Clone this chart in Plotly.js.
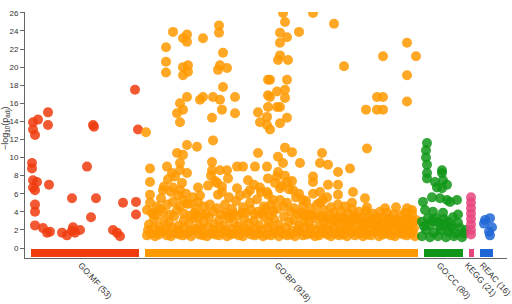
<!DOCTYPE html>
<html><head><meta charset="utf-8">
<script src="https://cdn.plot.ly/plotly-3.0.1.min.js"></script>
<style>html,body{margin:0;padding:0;background:#fff}#chart{width:512px;height:304px}</style>
</head><body><div id="chart"></div>
<script>
// Sources (categories), term counts and colours
var sources = ["GO:MF", "GO:BP", "GO:CC", "KEGG", "REAC"];
var termCounts = [53, 918, 80, 21, 16];
var colors = ["#f03c0e", "#ff9900", "#109618", "#e8457f", "#1e66d6"];
// Position span of each source on the x axis (term position scale)
var spanStart = [31, 145, 424, 469, 480];
var spanEnd = [139, 418, 463, 474, 493];

// Points: [term position, -log10(p_adj)]
var mfPoints = [[135,17.5],[48,15.0],[48,13.6],[33,13.9],[33,13.1],[35,12.5],[38,14.2],[93,13.6],[94,13.4],
 [138,13.1],[32,9.4],[32,8.8],[87,9.0],[33,7.5],[33,6.7],[35,6.4],[37,7.3],[49,7.0],[72,5.5],[96,5.5],
 [123,5.0],[136,5.1],[136,3.7],[35,4.8],[35,4.0],[35,2.5],[43,2.2],[47,1.7],[50,1.8],[62,1.7],[67,1.4],
 [73,2.3],[75,1.7],[80,2.0],[72,1.9],[91,3.4],[113,2.0],[117,1.7],[120,1.3]];

var bpPoints = [
 [173,23.9],[187,23.6],[187,22.8],[183,23.2],[203,23.2],[219,24.6],[219,23.8],[166,22.2],[166,20.6],[166,19.4],
 [183,20.0],[188,20.2],[183,19.1],[188,19.5],[223,21.6],[220,20.2],[227,19.9],[218,19.7],[268,18.6],[268,16.9],
 [268,15.6],[277,17.3],[277,15.6],[187,16.7],[180,16.0],[183,15.3],[177,14.9],[180,13.9],[200,16.4],[203,16.7],
 [213,16.7],[220,16.4],[222,15.3],[223,17.8],[235,16.7],[235,14.9],[212,14.4],[258,15.0],[260,13.9],[267,13.6],
 [267,14.5],[283,26.0],[285,25.0],[280,23.8],[280,22.7],[280,21.3],[287,23.3],[288,20.8],[278,20.8],[299,23.9],
 [313,26.0],[334,24.8],[344,20.1],[383,21.2],[407,22.7],[416,21.2],[407,19.1],[407,16.2],[377,16.7],[383,16.7],
 [366,15.3],[377,15.3],[383,15.3],[270,18.6],[287,18.6],[285,17.5],[285,16.6],[280,15.6],[270,16.7],[287,14.4],
 [280,13.8],[146,12.8],[213,11.9],[187,11.4],[197,11.2],[177,10.5],[183,10.3],[150,8.8],[150,7.3],[150,5.9],
 [167,9.0],[172,8.3],[180,9.4],[180,8.6],[187,8.3],[212,9.5],[212,8.6],[220,8.6],[227,8.6],[237,9.0],
 [243,9.0],[258,10.5],[255,9.0],[267,9.0],[268,7.7],[163,6.4],[173,6.7],[180,6.4],[183,5.3],[198,6.7],
 [198,5.1],[217,7.2],[222,6.2],[228,7.7],[237,6.6],[248,7.5],[250,6.4],[260,6.7],[267,6.2],[270,13.1],
 [367,11.0],[285,11.1],[292,10.6],[278,10.1],[283,9.4],[300,9.4],[322,10.5],[320,9.4],[328,9.2],[338,8.4],
 [350,8.8],[313,7.9],[313,7.3],[277,7.9],[287,7.3],[280,6.6],[293,6.4],[303,5.3],[273,5.3],[328,7.0],
 [320,6.2],[338,7.0],[338,5.9],[323,5.3],[353,6.2],[352,5.0],[365,5.5],[367,4.5],[385,4.4],[396,4.5],
 [407,4.4],[412,4.2],[377,3.4],[397,3.1],[405,2.3],
 // upper contour of the dense band
 [147,4.2],[150,5.0],[153,3.8],[157,4.6],[161,5.5],[164,6.8],[168,7.6],[171,6.2],[175,7.9],[178,5.8],
 [182,7.2],[186,6.0],[189,4.9],[193,5.6],[196,4.4],[200,5.8],[204,4.6],[208,6.9],[211,8.0],[215,7.4],
 [218,5.9],[222,6.8],[225,4.8],[229,5.6],[232,4.3],[236,5.2],[240,5.8],[243,4.5],[247,6.0],[250,5.0],
 [254,7.0],[257,5.4],[261,6.2],[264,4.6],[268,5.9],[271,4.8],[275,7.2],[278,8.4],[282,6.9],[285,8.0],
 [289,6.5],[292,7.4],[296,5.6],[299,6.0],[303,4.6],[306,5.2],[310,4.4],[313,6.0],[317,4.8],[320,5.0],
 [324,4.2],[327,5.6],[331,4.5],[334,3.9],[338,4.8],[341,4.0],[345,4.6],[348,3.8],[352,4.3],[355,3.6],
 [359,4.0],[362,3.4],[366,4.1],[369,3.5],[373,3.8],[376,3.2],[380,4.0],[383,3.4],[387,3.9],[390,3.3],
 [394,3.7],[398,3.0],[401,3.6],[405,3.9],[408,3.3],[412,3.8],[416,3.1],
 // middle of the dense band
 [152,3.9],[160,4.3],[167,4.8],[173,5.1],[180,4.6],[187,4.9],[195,3.9],[202,3.7],[210,4.8],[217,4.4],
 [226,3.9],[233,3.8],[242,3.9],[251,4.2],[258,4.0],[266,4.3],[273,4.1],[280,5.3],[287,5.0],[294,4.4],
 [301,3.9],[308,3.7],[316,3.8],[323,3.5],[330,3.6],[337,3.3],[346,3.2],[353,3.3],[362,2.9],[370,3.0],
 [378,2.8],[388,3.1],[396,3.0],[406,3.1],[413,2.9],
 [156,3.6],[163,4.0],[170,3.7],[177,4.2],[184,3.8],[191,3.6],[198,3.4],[206,3.8],[213,4.0],[221,3.7],
 [228,3.5],[237,3.6],[246,3.9],[255,3.7],[262,3.8],[270,3.6],[277,4.3],[284,4.6],[291,4.0],[298,3.7],
 [305,3.5],[312,3.6],[320,3.4],[327,3.2],[335,3.0],[343,3.4],[351,2.9],[358,3.2],[367,2.7],[374,2.9],
 [383,2.6],[392,2.8],[402,2.7],[410,2.9],
 [149,2.6],[154,3.2],[159,2.4],[164,3.0],[169,2.8],[174,3.5],[179,2.5],[184,3.1],[189,2.7],[194,3.3],
 [199,2.4],[204,2.9],[209,3.4],[214,2.6],[219,3.1],[224,2.5],[229,3.3],[234,2.8],[239,2.4],[244,3.2],
 [249,2.7],[254,3.0],[259,2.5],[264,3.4],[269,2.8],[274,3.2],[279,2.6],[284,3.5],[289,2.9],[294,3.1],
 [299,2.5],[304,3.0],[309,2.7],[314,3.3],[319,2.4],[324,2.9],[329,2.6],[334,3.1],[339,2.5],[344,2.8],
 [349,2.4],[354,3.0],[359,2.6],[364,2.3],[369,2.8],[374,2.5],[379,2.2],[384,2.9],[389,2.4],[394,2.6],
 [399,2.3],[404,2.8],[409,2.5],[414,2.2],
 [148,2.0],[154,2.2],[160,1.9],[166,2.1],[172,2.3],[178,2.0],[184,2.2],[190,1.9],[196,2.1],[202,2.0],
 [208,2.3],[214,2.0],[220,2.2],[226,1.9],[232,2.1],[238,2.0],[244,2.2],[250,1.9],[256,2.1],[262,2.0],
 [268,2.3],[274,2.1],[280,2.0],[286,2.2],[292,1.9],[298,2.1],[304,2.0],[310,2.2],[316,1.9],[322,2.1],
 [328,2.0],[334,2.2],[340,1.9],[346,2.1],[352,2.0],[358,1.9],[364,2.1],[370,2.0],[376,1.9],[382,2.1],
 [388,2.0],[394,1.9],[400,2.1],[406,2.0],[412,1.9],
 // bottom of the dense band
 [147,1.4],[151,1.6],[155,1.3],[159,1.5],[163,1.8],[167,1.4],[171,1.3],[175,1.7],[179,1.5],[183,1.4],
 [187,1.6],[191,1.3],[195,1.9],[199,1.5],[203,1.4],[207,1.3],[211,1.6],[215,1.5],[219,1.4],[223,1.7],
 [227,1.3],[231,1.5],[235,1.6],[239,1.4],[243,1.3],[247,1.8],[251,1.5],[255,1.4],[259,1.6],[263,1.3],
 [267,1.5],[271,1.4],[275,1.7],[279,1.3],[283,1.6],[287,1.4],[291,1.5],[295,1.3],[299,1.8],[303,1.4],
 [307,1.5],[311,1.6],[315,1.3],[319,1.4],[323,1.7],[327,1.5],[331,1.3],[335,1.6],[339,1.4],[343,1.5],
 [347,1.3],[351,1.7],[355,1.4],[359,1.6],[363,1.3],[367,1.5],[371,1.4],[375,1.8],[379,1.3],[383,1.5],
 [387,1.6],[391,1.4],[395,1.3],[399,1.7],[403,1.5],[407,1.4],[411,1.6],[415,1.3]];

var ccPoints = [[427,11.6],[426,10.8],[426,10.0],[427,9.2],[427,8.3],[427,7.7],[442,8.6],[442,8.3],[443,7.5],[435,7.3],
 [437,6.7],[442,6.6],[447,7.0],[432,5.6],[440,5.5],[447,5.3],[450,5.1],[457,5.3],[423,5.1],[425,4.2],[433,4.0],
 [443,3.9],[453,3.4],[458,3.7],[422,2.9],[426,2.0],[430,2.5],[434,1.7],[438,2.9],[441,2.0],[445,2.7],[448,1.8],
 [452,2.4],[456,1.6],[460,2.2],[464,1.6],[422,1.3],[430,1.2],[438,1.3],[446,1.2],[454,1.3],[462,1.2],[436,3.3],
 [448,2.9],[428,3.3],[466,2.0],[432,3.0],[440,2.4],[444,3.2],[450,2.2],[424,2.4],[458,2.8]];

var keggPoints = [[471,5.6],[471,5.0],[471,4.4],[471,3.8],[471,3.2],[471,2.6],[471,2.0],[471,1.5]];

var reacPoints = [[485,3.1],[490,3.3],[484,2.7],[492,2.3],[489,1.8],[490,1.4]];

var allPoints = [mfPoints, bpPoints, ccPoints, keggPoints, reacPoints];

var traces = [];
// Source bars beneath the points
var centers = spanStart.map(function(s, i){ return (s + spanEnd[i]) / 2; });
traces.push({
  type: "bar",
  x: centers,
  y: sources.map(function(){ return 0.9; }),
  base: sources.map(function(){ return -1.0; }),
  width: spanStart.map(function(s, i){ return spanEnd[i] - s; }),
  marker: {color: colors, line: {width: 0}},
  hoverinfo: "skip",
  showlegend: false
});
allPoints.forEach(function(pts, i){
  traces.push({
    type: "scatter",
    mode: "markers",
    x: pts.map(function(p){ return p[0]; }),
    y: pts.map(function(p){ return p[1]; }),
    marker: {color: colors[i], size: 10, opacity: 0.85, line: {width: 0}},
    showlegend: false,
    name: sources[i]
  });
});

var tickText = sources.map(function(s, i){ return s + " (" + termCounts[i] + ")"; });
var tickPos = centers.map(function(c){ return c - 4; });

var layout = {
  width: 512, height: 304,
  margin: {l: 25, r: 5, t: 12, b: 46, pad: 0},
  paper_bgcolor: "#fff", plot_bgcolor: "#fff",
  showlegend: false,
  font: {family: "Liberation Sans, Arial, sans-serif", size: 8, color: "#333"},
  xaxis: {
    range: [25, 507], showgrid: false, zeroline: false,
    showline: true, linecolor: "#666", linewidth: 1,
    ticks: "", tickmode: "array", tickvals: tickPos,
    ticktext: tickText, tickangle: 48, ticklabeloverflow: "allow",
    ticklabelstandoff: -2,
    tickfont: {size: 8.5, color: "#333"}, automargin: false
  },
  yaxis: {
    range: [-1.106, 26.1], showgrid: false, zeroline: false,
    showline: true, linecolor: "#666", linewidth: 1,
    ticks: "outside", ticklen: 4, tickcolor: "#666",
    tickmode: "linear", tick0: 0, dtick: 2,
    tickfont: {size: 8, color: "#333"}, automargin: false
  },
  annotations: [{
    xref: "paper", yref: "paper", x: 0, y: 0.528, xshift: -19,
    xanchor: "center", yanchor: "middle", textangle: -90, showarrow: false,
    text: "\u2212log<sub>10</sub>(p<sub>adj</sub>)",
    font: {size: 9, color: "#333"}
  }],
  bargap: 0
};

Plotly.newPlot("chart", traces, layout, {staticPlot: true, displayModeBar: false});
</script>
</body></html>
